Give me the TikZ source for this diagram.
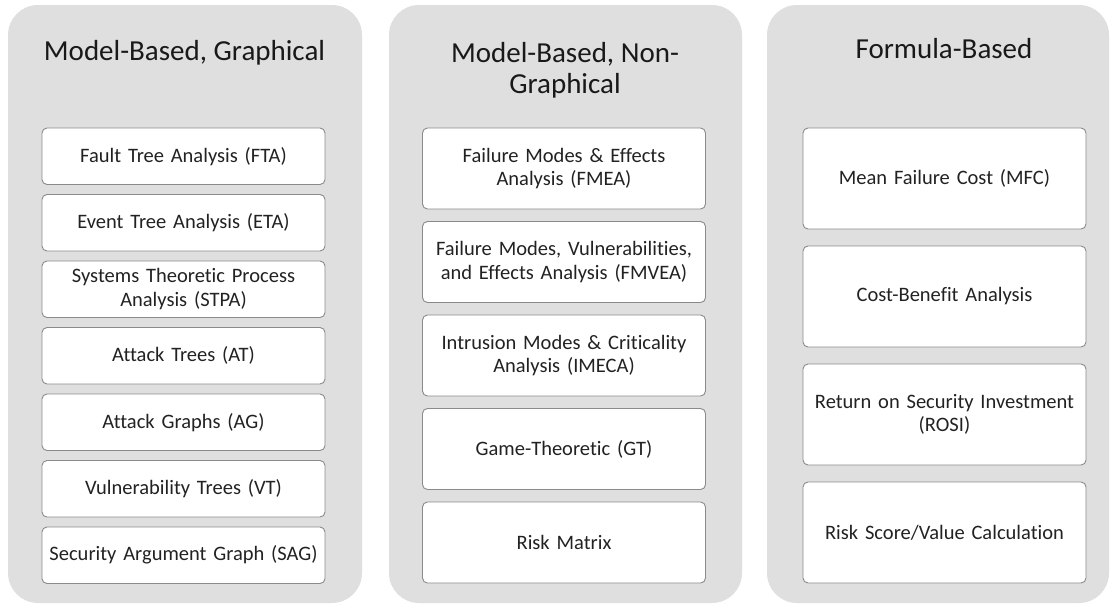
\documentclass[tikz,border=0pt]{standalone}
\usepackage{fontspec}
\setmainfont[Ligatures={NoCommon}]{Carlito}
\definecolor{panelgrey}{HTML}{DFDFDF}
\definecolor{boxborder}{HTML}{8A8A8A}
\definecolor{textcol}{HTML}{222222}
\begin{document}
\begin{tikzpicture}[x=1pt,y=-1pt,
  panel/.style={fill=panelgrey, draw=none, rounded corners=30pt, inner sep=0pt},
  item/.style={draw=boxborder, fill=white, line width=0.9pt, rounded corners=5pt,
    align=center, font=\fontsize{20.5}{23.5}\selectfont, text=textcol, inner sep=0pt,
    text width=280pt, minimum width=283pt},
  ttl/.style={font=\fontsize{29}{31}\selectfont, text=black!90, align=center, inner sep=0pt}]
\useasboundingbox (0,0) rectangle (1111,605);
\fill[white] (0,0) rectangle (1111,605);
% panels
\node[panel, minimum width=354pt, minimum height=598pt] (p1) at (185,304) {};
\node[panel, minimum width=353pt, minimum height=598pt] (p2) at (565.5,304) {};
\node[panel, minimum width=342pt, minimum height=598pt] (p3) at (938,304) {};
% titles
\node[ttl, anchor=base] (t1) at (184.5,60) {Model-Based, Graphical};
\node[ttl] (t2) at (565,70) {Model-Based, Non-\\Graphical};
\node[ttl, anchor=base] (t3) at (944,58) {Formula-Based};
% column 1
\begin{scope}[every node/.append style={item, minimum height=56.5pt}]
\node (fta)  at (183.5,156.25) {Fault Tree Analysis (FTA)};
\node (eta)  at (183.5,222.75) {Event Tree Analysis (ETA)};
\node (stpa) at (183.5,289.25) {Systems Theoretic Process\\Analysis (STPA)};
\node (at)   at (183.5,355.75) {Attack Trees (AT)};
\node (ag)   at (183.5,422.25) {Attack Graphs (AG)};
\node (vt)   at (183.5,488.75) {Vulnerability Trees (VT)};
\node (sag)  at (183.5,555.25) {Security Argument Graph (SAG)};
\end{scope}
% column 2
\begin{scope}[every node/.append style={item, minimum height=81pt}]
\node (fmea)  at (564,168.5) {Failure Modes \& Effects\\Analysis (FMEA)};
\node (fmvea) at (564,262)   {Failure Modes, Vulnerabilities,\\and Effects Analysis (FMVEA)};
\node (imeca) at (564,355.5) {Intrusion Modes \& Criticality\\Analysis (IMECA)};
\node (gt)    at (564,449)   {Game-Theoretic (GT)};
\node (rm)    at (564,542.5) {Risk Matrix};
\end{scope}
% column 3
\begin{scope}[every node/.append style={item, minimum height=101pt}]
\node (mfc)  at (944.5,178.5) {Mean Failure Cost (MFC)};
\node (cba)  at (944.5,296.5) {Cost-Benefit Analysis};
\node (rosi) at (944.5,414.5) {Return on Security Investment\\(ROSI)};
\node (rsv)  at (944.5,532.5) {Risk Score/Value Calculation};
\end{scope}
\end{tikzpicture}
\end{document}
